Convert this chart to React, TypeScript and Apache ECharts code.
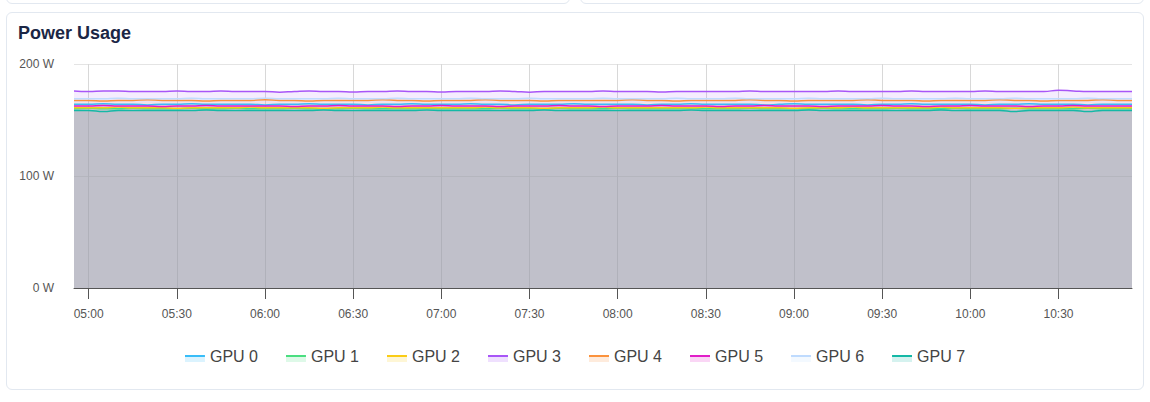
import { useEffect, useRef } from 'react';
import * as echarts from 'echarts';

const times = [
  '04:55', '05:00', '05:05', '05:10', '05:15', '05:20', '05:25', '05:30', '05:35', '05:40', '05:45', '05:50',
  '05:55', '06:00', '06:05', '06:10', '06:15', '06:20', '06:25', '06:30', '06:35', '06:40', '06:45', '06:50',
  '06:55', '07:00', '07:05', '07:10', '07:15', '07:20', '07:25', '07:30', '07:35', '07:40', '07:45', '07:50',
  '07:55', '08:00', '08:05', '08:10', '08:15', '08:20', '08:25', '08:30', '08:35', '08:40', '08:45', '08:50',
  '08:55', '09:00', '09:05', '09:10', '09:15', '09:20', '09:25', '09:30', '09:35', '09:40', '09:45', '09:50',
  '09:55', '10:00', '10:05', '10:10', '10:15', '10:20', '10:25', '10:30', '10:35', '10:40', '10:45', '10:50',
  '10:55',
];

const gpu0 = [
  164, 164, 164.5, 164, 164, 163.5, 164, 164, 164.5, 164, 164, 164,
  164, 163.5, 164, 164, 164.5, 164, 164, 164, 163.5, 164, 164, 164.5,
  164, 164, 164, 164.5, 164, 164, 163.5, 164, 164, 164, 164.5, 164,
  164, 164, 164, 163.5, 164, 164, 164.5, 164, 164, 164, 164, 163.5,
  164, 164.5, 164, 164, 164, 164, 163.5, 164, 164, 164.5, 164, 164,
  164, 164, 163.5, 164, 164, 164.5, 164, 164, 164, 163.5, 164, 164,
  164,
];
const gpu1 = [
  160, 160.5, 160, 160, 160.5, 160, 160, 160, 160.5, 160, 160, 160.5,
  160, 160, 160, 160.5, 160, 160, 160, 160.5, 160, 160, 160, 160,
  160.5, 160, 160, 160, 160, 160.5, 160, 160, 160, 160.5, 160, 160,
  160, 160.5, 160, 160, 160, 160, 160.5, 160, 160, 160, 160.5, 160,
  160, 160, 160, 160.5, 160, 160, 160, 160, 160.5, 160, 160, 160,
  160.5, 160, 160, 160, 160.5, 160, 160, 160, 160, 160.5, 160, 160,
  160,
];
const gpu2 = [
  161, 161, 161, 161.5, 161, 161, 161, 160.5, 161, 161, 161, 161,
  161.5, 161, 161, 161, 161, 160.5, 161, 161, 161, 161.5, 161, 161,
  161, 161, 161, 161, 161.5, 161, 161, 161, 160.5, 161, 161, 161,
  161.5, 161, 161, 161, 161, 161, 161, 161.5, 161, 161, 161, 161,
  161, 160.5, 161, 161, 161, 161.5, 161, 161, 161, 161, 161, 161.5,
  161, 161, 161, 161, 160.5, 161, 161, 161, 161.5, 161, 161, 161,
  161,
];
const gpu3 = [
  176, 175.5, 176, 176, 175.5, 175.5, 175.5, 176, 175.5, 175.5, 176, 175.5,
  175.5, 175.5, 174.8, 175.5, 176, 175.5, 175.5, 175, 175.5, 175.5, 176, 175.5,
  175.5, 175, 175.5, 175.5, 175.5, 176, 175.5, 174.8, 175.5, 175.5, 175.5, 175.5,
  176, 175.5, 175.5, 175.5, 175, 175.5, 175.5, 175.5, 175.5, 175.5, 176, 175.5,
  175.5, 175.5, 175.5, 175.5, 176, 175.5, 175.5, 175.5, 175.5, 176, 175.5, 175.5,
  175.5, 175.5, 176, 175.5, 175.5, 175.5, 175.5, 176.5, 176, 175.5, 175.5, 175.5,
  175.5,
];
const gpu4 = [
  167.5, 167.5, 167, 167.5, 167.5, 168, 167.5, 167.5, 167.5, 167, 167.5, 167.5,
  167.5, 168, 167.5, 167.5, 167, 167.5, 167.5, 167.5, 167.5, 168, 167.5, 167.5,
  167, 167.5, 167.5, 167.5, 168, 167.5, 167.5, 167.5, 167, 167.5, 167.5, 167.5,
  167.5, 167.5, 168, 167.5, 167.5, 167, 167.5, 167.5, 167.5, 167.5, 168, 167.5,
  167.5, 167, 167.5, 167.5, 167.5, 167.5, 168, 167.5, 167.5, 167.5, 167, 167.5,
  167.5, 167.5, 167.5, 168, 167.5, 167.5, 167, 167.5, 167.5, 167.5, 168, 167.5,
  167.5,
];
const gpu5 = [
  162.5, 162.5, 163, 162.5, 162.5, 162.5, 162, 162.5, 162.5, 163, 162.5, 162.5,
  162.5, 162.5, 162.5, 162, 162.5, 162.5, 163, 162.5, 162.5, 162.5, 162, 162.5,
  162.5, 163, 162.5, 162.5, 162.5, 162, 162.5, 162.5, 162.5, 163, 162.5, 162.5,
  162, 162.5, 162.5, 162.5, 163, 162.5, 162.5, 162.5, 162, 162.5, 162.5, 163,
  162.5, 162.5, 162.5, 162, 162.5, 162.5, 162.5, 163, 162.5, 162.5, 162, 162.5,
  162.5, 163, 162.5, 162.5, 162.5, 162, 162.5, 162.5, 163, 162.5, 162.5, 162.5,
  162.5,
];
const gpu6 = [
  169, 169, 169, 169.5, 169, 169, 169, 169, 169.5, 169, 169, 169,
  169, 169.5, 169, 169, 169, 169, 169.5, 169, 169, 169, 169.5, 169,
  169, 169, 169, 169.5, 169, 169, 169, 169.5, 169, 169, 169, 169,
  169.5, 169, 169, 169, 169, 169.5, 169, 169, 169, 169.5, 169, 169,
  169, 169, 169.5, 169, 169, 169, 169, 169.5, 169, 169, 169, 169,
  169.5, 169, 169, 169, 169.5, 169, 169, 169, 169, 169.5, 169, 169,
  169,
];
const gpu7 = [
  158.5, 158.5, 157.5, 158.5, 158.5, 158.5, 158.5, 158.5, 158.5, 159, 158.5, 158.5,
  158.5, 158.5, 158.5, 158.5, 158.5, 159, 158.5, 158.5, 158.5, 158.5, 158.5, 158.5,
  159, 158.5, 158.5, 158.5, 158.5, 158.5, 158.5, 158.5, 159, 158.5, 158.5, 158.5,
  158.5, 158.5, 158.5, 158.5, 158.5, 158.5, 159, 158.5, 158.5, 158.5, 158.5, 158.5,
  158.5, 158.5, 159, 158.5, 158.5, 158.5, 158.5, 158.5, 158.5, 158.5, 158.5, 159,
  158.5, 158.5, 158.5, 158.5, 157.5, 158.5, 158.5, 158.5, 158.5, 157.5, 158.5, 158.5,
  158.5,
];

const gpuNames = ['GPU 0', 'GPU 1', 'GPU 2', 'GPU 3', 'GPU 4', 'GPU 5', 'GPU 6', 'GPU 7'];
const gpuValues = [gpu0, gpu1, gpu2, gpu3, gpu4, gpu5, gpu6, gpu7];
const gpuColors = ['#38bdf8', '#4ade80', '#facc15', '#a855f7', '#fb923c', '#e11dc8', '#bfdbfe', '#14b8a6'];

const yTicks = [0, 100, 200];

const FONT = '"Liberation Sans", Arial, sans-serif';

const onHalfHour = (_i: number, v: string) => v.endsWith(':00') || v.endsWith(':30');

// line on top, faint area underneath, like the reference legend swatch
function legendIcon(color: string) {
  const svg =
    `<svg xmlns='http://www.w3.org/2000/svg' width='20' height='12'>` +
    `<rect x='0' y='7' width='20' height='5' fill='${color}' fill-opacity='0.18'/>` +
    `<rect x='0' y='5' width='20' height='2' fill='${color}'/></svg>`;
  return 'image://data:image/svg+xml;charset=utf-8,' + encodeURIComponent(svg);
}

function PowerChart() {
  const ref = useRef<HTMLDivElement>(null);

  useEffect(() => {
    if (!ref.current) return;
    const chart = echarts.init(ref.current, undefined, { renderer: 'svg' });
    chart.setOption({
      animation: false,
      textStyle: { fontFamily: FONT },
      title: {
        text: 'Power Usage',
        left: 13,
        top: 19,
        textStyle: { color: '#1b2645', fontSize: 18, fontWeight: 'bold', fontFamily: FONT },
      },
      legend: {
        data: gpuNames.map((name, i) => ({ name, icon: legendIcon(gpuColors[i]) })),
        left: 'center',
        top: 343,
        itemWidth: 20,
        itemHeight: 12,
        itemGap: 28,
        textStyle: { color: '#444', fontSize: 16, fontFamily: FONT },
      },
      grid: { left: 74, right: 18, top: 64, bottom: 114 },
      xAxis: {
        type: 'category',
        boundaryGap: false,
        data: times,
        axisLine: { lineStyle: { color: '#555', width: 1 } },
        axisTick: { show: true, interval: onHalfHour, length: 11, lineStyle: { color: '#555' } },
        axisLabel: { interval: onHalfHour, color: '#555', fontSize: 12, margin: 20 },
        splitLine: { show: true, interval: onHalfHour, lineStyle: { color: '#d8d8d8' } },
      },
      yAxis: {
        type: 'value',
        min: yTicks[0],
        max: yTicks[yTicks.length - 1],
        interval: 100,
        axisLine: { show: false },
        axisTick: { show: false },
        axisLabel: { formatter: '{value} W', color: '#555', fontSize: 12, margin: 20 },
        splitLine: { lineStyle: { color: '#e4e4e4' } },
      },
      series: gpuNames.map((name, i) => ({
        name,
        type: 'line',
        data: gpuValues[i],
        smooth: true,
        symbol: 'none',
        lineStyle: { color: gpuColors[i], width: 1.5 },
        itemStyle: { color: gpuColors[i] },
        areaStyle: { color: gpuColors[i], opacity: 0.11 },
      })),
    });
    return () => chart.dispose();
  }, []);

  return <div ref={ref} style={{ position: 'absolute', left: 0, top: 0, width: 1150, height: 402 }} />;
}

export default function App() {
  const card = {
    position: 'absolute' as const,
    border: '1px solid #e2e8f0',
    borderRadius: 6,
    background: '#fff',
    boxSizing: 'border-box' as const,
  };
  return (
    <div style={{ position: 'fixed', left: 0, top: 0, width: 1150, height: 402, background: '#fff', overflow: 'hidden' }}>
      <div style={{ ...card, left: 6, top: -20, width: 564, height: 24 }} />
      <div style={{ ...card, left: 580, top: -20, width: 564, height: 24 }} />
      <div style={{ ...card, left: 6, top: 12, width: 1138, height: 378 }} />
      <PowerChart />
    </div>
  );
}
